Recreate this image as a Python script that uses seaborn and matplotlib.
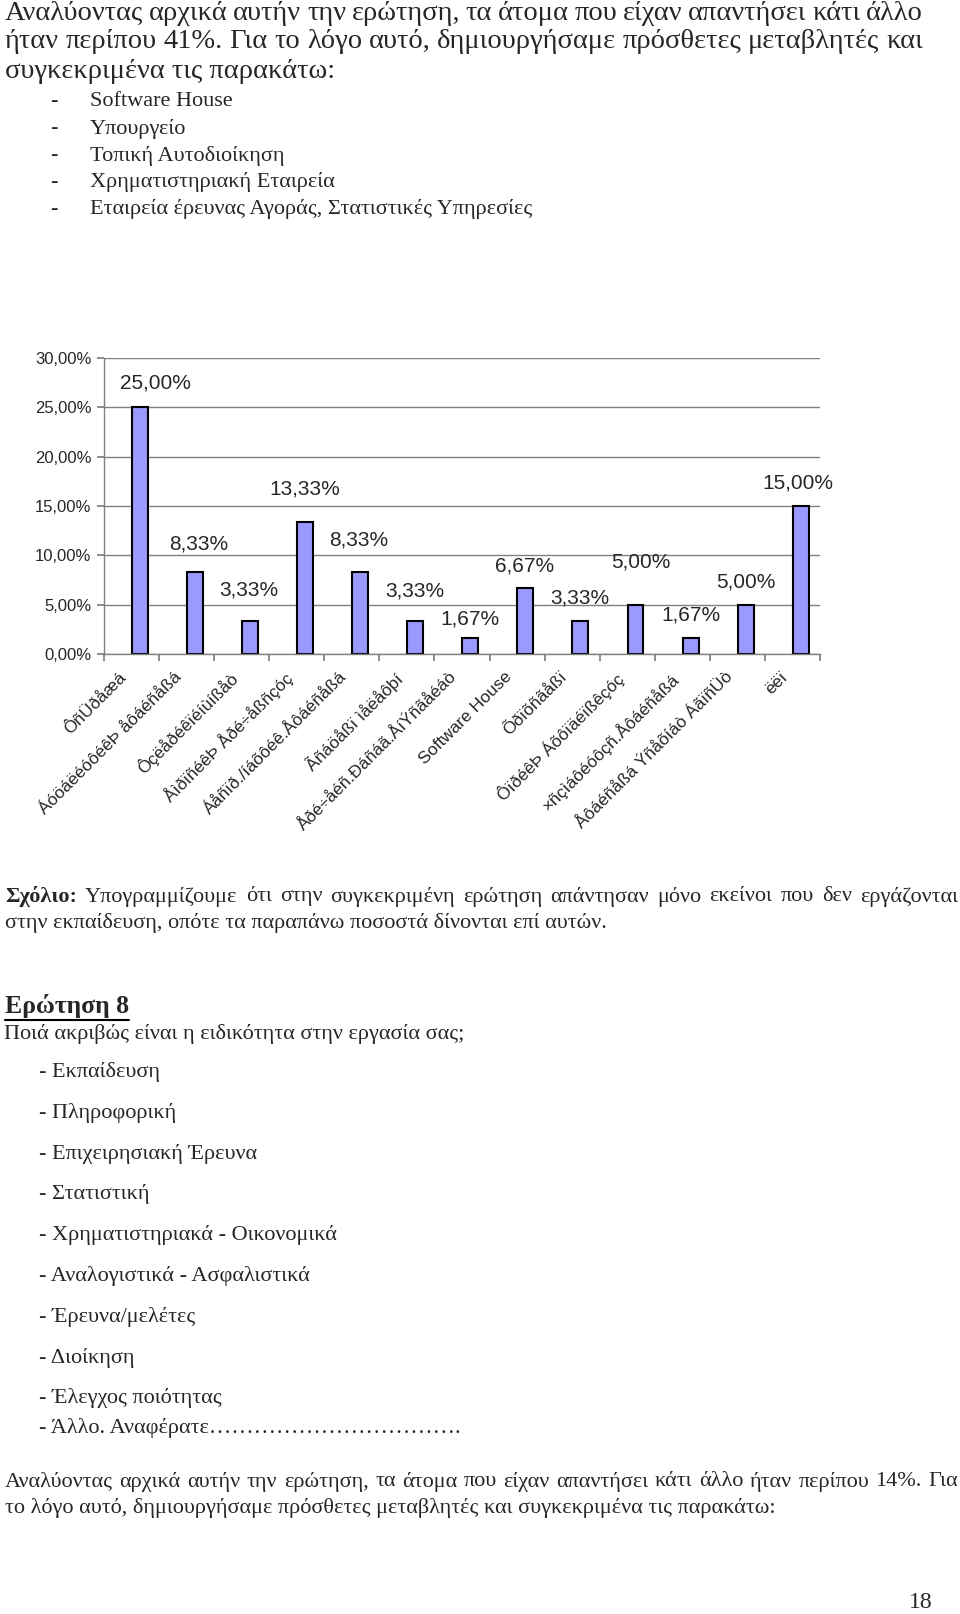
import matplotlib
matplotlib.use("Agg")
import numpy as np
import pandas as pd
import seaborn as sns
import matplotlib.pyplot as plt
from matplotlib.lines import Line2D

W, H = 960, 1614

# bar chart data (x labels are shown garbled in the scan, kept as they appear)
categories = ["ÔñÜðåæá", "ÁóöáëéóôéêÞ åôáéñåßá", "Ôçëåðéêïéíùíßåò",
              "ÅìðïñéêÞ Åðé÷åßñçóç", "Áåñïð./íáõôéê.Åôáéñåßá", "Ãñáöåßï ìåëåôþí",
              "Åðé÷åéñ.Ðáñáã.ÅíÝñãåéáò", "Software House", "Õðïõñãåßï",
              "ÔïðéêÞ Áõôïäéïßêçóç", "×ñçìáôéóôçñ.Åôáéñåßá",
              "Åôáéñåßá Ýñåõíáò ÁãïñÜò", "ëëï"]
values = [25.00, 8.33, 3.33, 13.33, 8.33, 3.33, 1.67, 6.67, 3.33, 5.00, 1.67, 5.00, 15.00]
yticks = [0, 5, 10, 15, 20, 25, 30]

# where the data labels sit (pixels) relative to the top of each bar
lab_dx = [16, 4, -1, 0, -1, 0, 0, -1, -1, 5, 0, 0, -3]
lab_lift = [24, 28, 31, 33, 32, 30, 19, 22, 23, 43, 23, 23, 23]

# page text
para1 = ["Αναλύοντας αρχικά αυτήν την ερώτηση, τα άτομα που είχαν απαντήσει κάτι άλλο",
         "ήταν περίπου 41%. Για το λόγο αυτό, δημιουργήσαμε πρόσθετες μεταβλητές και",
         "συγκεκριμένα τις παρακάτω:"]
list1 = ["Software House", "Υπουργείο", "Τοπική Αυτοδιοίκηση",
         "Χρηματιστηριακή Εταιρεία", "Εταιρεία έρευνας Αγοράς, Στατιστικές Υπηρεσίες"]
note = ["Σχόλιο: Υπογραμμίζουμε ότι στην συγκεκριμένη ερώτηση απάντησαν μόνο εκείνοι που δεν εργάζονται",
        "στην εκπαίδευση, οπότε τα παραπάνω ποσοστά δίνονται επί αυτών."]
question = "Ποιά ακριβώς είναι η ειδικότητα στην εργασία σας;"
list2 = ["- Εκπαίδευση", "- Πληροφορική", "- Επιχειρησιακή Έρευνα", "- Στατιστική",
         "- Χρηματιστηριακά - Οικονομικά", "- Αναλογιστικά - Ασφαλιστικά",
         "- Έρευνα/μελέτες", "- Διοίκηση", "- Έλεγχος ποιότητας",
         "- Άλλο. Αναφέρατε" + "…" * 11 + "."]
para2 = ["Αναλύοντας αρχικά αυτήν την ερώτηση, τα άτομα που είχαν απαντήσει κάτι άλλο ήταν περίπου 14%. Για",
         "το λόγο αυτό, δημιουργήσαμε πρόσθετες μεταβλητές και συγκεκριμένα τις παρακάτω:"]

sns.set_theme(style="white")
plt.rcParams["font.family"] = ["Liberation Serif", "DejaVu Serif"]
SANS = ["Liberation Sans", "DejaVu Sans"]

fig = plt.figure(figsize=(W / 100, H / 100), dpi=100)
fig.patch.set_facecolor("white")
rend = fig.canvas.get_renderer()


def put_line(y, text, x0, x1=None, size=14.5, bold=(), **kw):
    # draws one text line, spread word by word to x1 if given (justified)
    if x1 is None:
        return fig.text(x0 / W, 1 - y / H, text, fontsize=size, va="center", ha="left", **kw)
    words = text.split(" ")
    arts = [fig.text(0, 0, w, fontsize=size, va="center", ha="left",
                     weight="bold" if w in bold else "normal", **kw) for w in words]
    widths = [a.get_window_extent(rend).width for a in arts]
    gap = (x1 - x0 - sum(widths)) / max(len(words) - 1, 1)
    x = x0
    for a, w in zip(arts, widths):
        a.set_position((x / W, 1 - y / H))
        x += w + gap


## top paragraph
put_line(13, para1[0], 5, 923, size=20.5)
put_line(41, para1[1], 5, 923, size=20.5)
put_line(71, para1[2], 5, size=20.5)
for i, item in enumerate(list1):
    y = 102 + i * 26.8
    put_line(y, "-", 50, size=16)
    put_line(y, item, 90, size=16)

## chart
ax = fig.add_axes([104 / W, 1 - 654 / H, (820 - 104) / W, (654 - 358) / H])
df = pd.DataFrame({"cat": categories, "pct": values})
sns.barplot(data=df, x="cat", y="pct", ax=ax, color="#9999FF", saturation=1,
            width=0.29, edgecolor="black", linewidth=1.5)

ax.set_xlim(-0.65, len(categories) - 0.65)
ax.set_ylim(0, 30)
ax.set_yticks(yticks)
ax.set_yticklabels([f"{t:.2f}".replace(".", ",") + "%" for t in yticks], fontsize=12, family=SANS)
ax.yaxis.grid(True, color="#808080", lw=1)
ax.set_axisbelow(True)
for s in ["top", "right"]:
    ax.spines[s].set_visible(False)
for s in ["left", "bottom"]:
    ax.spines[s].set_color("#808080")
    ax.spines[s].set_linewidth(1)
ax.set_xlabel("")
ax.set_ylabel("")

ax.set_xticks(np.arange(len(categories) + 1) - 0.65)
ax.set_xticklabels([])
ax.set_xticks(np.arange(len(categories)) - 0.38, minor=True)
ax.set_xticklabels(categories, minor=True, fontsize=12.5, family=SANS)
ax.tick_params(axis="x", which="major", bottom=True, length=5, color="#808080", direction="out")
ax.tick_params(axis="x", which="minor", bottom=True, length=0, pad=11)
ax.tick_params(axis="y", left=True, length=5, color="#808080", direction="out", pad=4)
for lab in ax.get_xticklabels(minor=True):
    lab.set_rotation(45)
    lab.set_ha("right")
    lab.set_va("top")
    lab.set_rotation_mode("anchor")

for i, v in enumerate(values):
    ax.annotate(f"{v:.2f}".replace(".", ",") + "%", xy=(i, v),
                xytext=(lab_dx[i], lab_lift[i]), textcoords="offset pixels",
                ha="center", va="center", fontsize=15, family=SANS)

## note + question 8
put_line(897, note[0], 5, 958, size=16, bold=("Σχόλιο:",))
put_line(923, note[1], 5, size=16)

t8 = put_line(1006, "Ερώτηση 8", 5, size=18.5, weight="bold")
bb = t8.get_window_extent(rend)
fig.add_artist(Line2D([bb.x0 / W, bb.x1 / W], [(H - 1020) / H] * 2, color="black", lw=1.5,
                      transform=fig.transFigure))

put_line(1034, question, 4, size=16)
for i, item in enumerate(list2[:-1]):
    put_line(1072 + i * 40.8, item, 39, size=16)
put_line(1428, list2[-1], 39, size=16)

put_line(1482, para2[0], 5, 958, size=16)
put_line(1508, para2[1], 5, size=16)

put_line(1603, "18", 909, size=17)

fig.savefig("out.png", dpi=100, facecolor="white")
